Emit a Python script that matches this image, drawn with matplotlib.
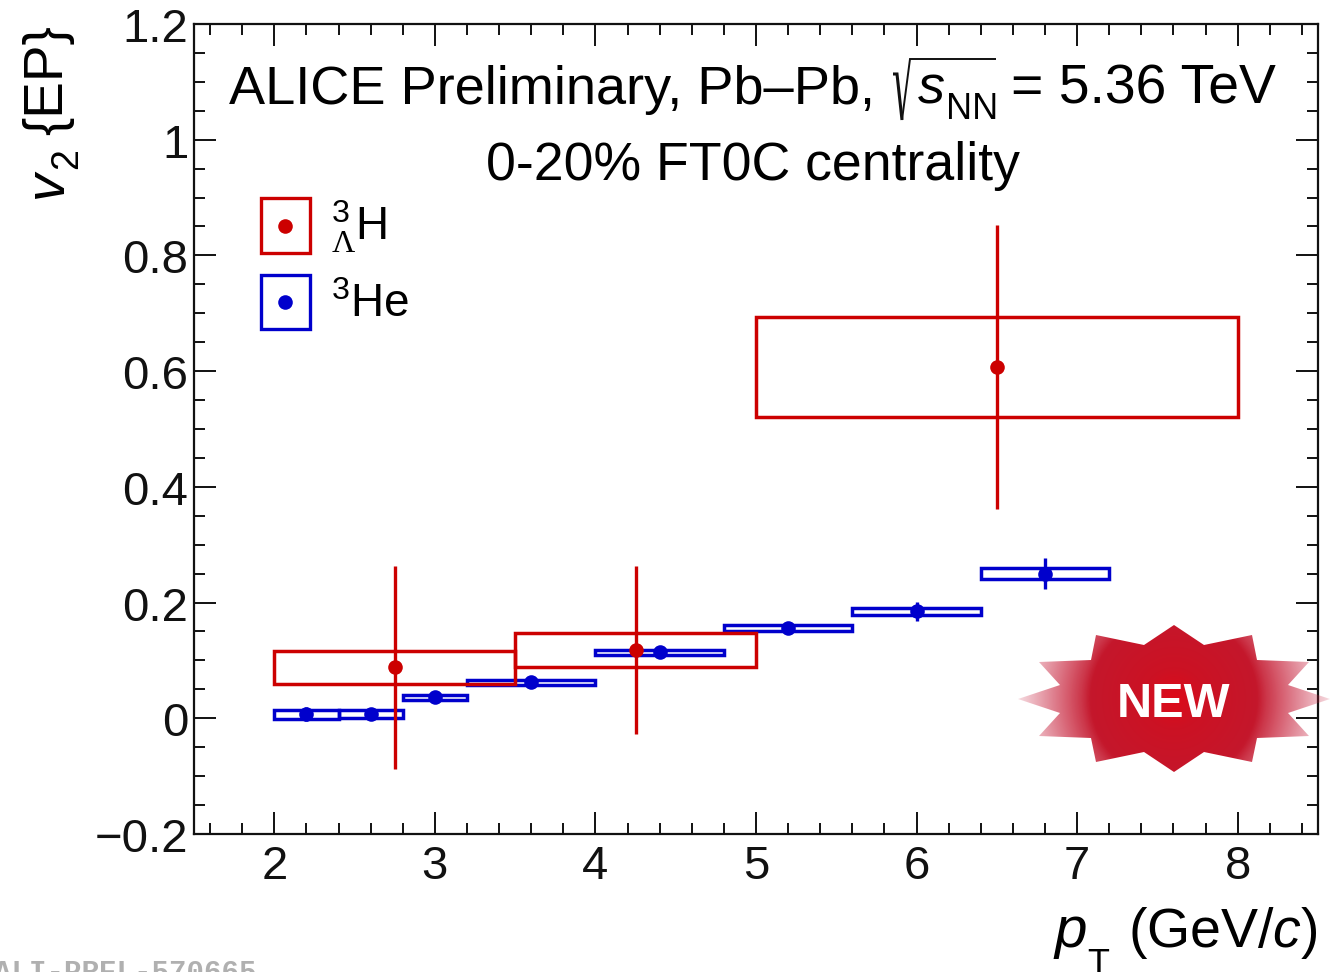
#!/usr/bin/env python3
# v2 vs pT for hypertriton and 3He, ALICE preliminary
import numpy as np
import matplotlib
matplotlib.use('Agg')
import matplotlib.pyplot as plt
from matplotlib.patches import Rectangle, Polygon
from matplotlib.lines import Line2D
from matplotlib.legend_handler import HandlerTuple, HandlerLine2D
from matplotlib.ticker import MultipleLocator, FuncFormatter
from matplotlib.transforms import ScaledTranslation

plt.rcParams['font.family'] = ['Liberation Sans', 'DejaVu Sans']
plt.rcParams['mathtext.fontset'] = 'custom'
plt.rcParams['mathtext.rm'] = 'Liberation Sans'
plt.rcParams['mathtext.it'] = 'Liberation Sans:italic'
plt.rcParams['mathtext.bf'] = 'Liberation Sans:bold'
plt.rcParams['mathtext.tt'] = 'Liberation Serif'

# hypertriton
hyp_low = [2.0, 3.5, 5.0]
hyp_high = [3.5, 5.0, 8.0]
hyp_x = [2.75, 4.25, 6.5]
hyp_y = [0.088, 0.118, 0.607]
hyp_stat = [0.176, 0.145, 0.245]
hyp_sys_low = [0.059, 0.088, 0.520]
hyp_sys_high = [0.117, 0.147, 0.693]

# 3He
he_low = [2.0, 2.4, 2.8, 3.2, 4.0, 4.8, 5.6, 6.4]
he_high = [2.4, 2.8, 3.2, 4.0, 4.8, 5.6, 6.4, 7.2]
he_x = [2.2, 2.6, 3.0, 3.6, 4.4, 5.2, 6.0, 6.8]
he_y = [0.007, 0.007, 0.036, 0.062, 0.114, 0.156, 0.185, 0.250]
he_stat = [0.012, 0.010, 0.008, 0.006, 0.007, 0.008, 0.016, 0.027]
he_sys = [0.008, 0.007, 0.005, 0.004, 0.004, 0.005, 0.006, 0.009]

red = '#cc0000'
blue = '#0000cc'
W, H = 1337, 972

fig = plt.figure(figsize=(W/100, H/100), dpi=100)
ax = fig.add_axes([194/W, (H-834)/H, 1124/W, 810/H])
ax.set_xlim(1.5, 8.5)
ax.set_ylim(-0.2, 1.2)


def sys_boxes(lows, highs, bottoms, tops, col):
    for l, h, b, t in zip(lows, highs, bottoms, tops):
        ax.add_patch(Rectangle((l, b), h-l, t-b, fill=False, ec=col, lw=2.5, zorder=3))


he_bot = [y-s for y, s in zip(he_y, he_sys)]
he_top = [y+s for y, s in zip(he_y, he_sys)]
sys_boxes(he_low, he_high, he_bot, he_top, blue)
ax.errorbar(he_x, he_y, yerr=he_stat, fmt='o', color=blue, ms=10.5, mew=0, elinewidth=2.4, zorder=4)

sys_boxes(hyp_low, hyp_high, hyp_sys_low, hyp_sys_high, red)
ax.errorbar(hyp_x, hyp_y, yerr=hyp_stat, fmt='o', color=red, ms=10.5, mew=0, elinewidth=2.4, zorder=5)

# ticks
ax.xaxis.set_major_locator(MultipleLocator(1))
ax.xaxis.set_minor_locator(MultipleLocator(0.2))
ax.yaxis.set_major_locator(MultipleLocator(0.2))
ax.yaxis.set_minor_locator(MultipleLocator(0.05))
ax.yaxis.set_major_formatter(FuncFormatter(lambda v, p: ('%.1f' % v).replace('-', '\u2212').replace('1.0', '1').replace('0.0', '0')))
ax.tick_params(which='both', direction='in', top=True, right=True, width=1.4, colors='#111111')
ax.tick_params(which='major', length=16, labelsize=34, pad=4)
ax.tick_params(which='minor', length=8)
ax.tick_params(axis='x', which='major', pad=8)
for sp in ax.spines.values():
    sp.set_linewidth(1.6)
    sp.set_color('#111111')
shift = ScaledTranslation(0, -1/100, fig.dpi_scale_trans)
for lab in ax.get_yticklabels():
    lab.set_transform(lab.get_transform()+shift)


class HandlerDot(HandlerLine2D):
    # keep the dot in the middle of the legend box
    def create_artists(self, legend, orig_handle, xdescent, ydescent, width, height, fontsize, trans):
        arts = super().create_artists(legend, orig_handle, xdescent, ydescent, width, height, fontsize, trans)
        for a in arts:
            a.set_ydata(np.asarray(a.get_ydata())-ydescent/2)
        return arts


# legend
hyp_handle = (Rectangle((0, 0), 1, 1, fill=False, ec=red, lw=2.4),
              Line2D([], [], ls='none', marker='o', color=red, ms=10.5, mew=0))
he_handle = (Rectangle((0, 0), 1, 1, fill=False, ec=blue, lw=2.4),
             Line2D([], [], ls='none', marker='o', color=blue, ms=10.5, mew=0))
leg = ax.legend([hyp_handle, he_handle], ['$^{3}_{\\mathtt{\\Lambda}}$H', '$^{3}$He'],
                handler_map={tuple: HandlerTuple(ndivide=1, pad=0), Line2D: HandlerDot()},
                loc='upper left', bbox_to_anchor=(66.5/1124, 1-(198.5-24)/810), borderaxespad=0, borderpad=0,
                frameon=False, fontsize=33, handlelength=1.09, handleheight=1.44,
                handletextpad=0.45, labelspacing=0.42)

# overlay in pixel coordinates for the placed texts and the badge
ov = fig.add_axes([0, 0, 1, 1], zorder=10)
ov.patch.set_visible(False)
ov.axis('off')

# NEW badge
cx, cy = 1174, 699
star = np.array([[0, -74], [30, -54], [78, -64], [83, -39], [135, -37], [114, -14], [156, 0],
                 [114, 14], [135, 37], [83, 39], [78, 63], [30, 53], [0, 73], [-30, 53],
                 [-78, 63], [-83, 39], [-135, 37], [-114, 14], [-156, 0], [-114, -14],
                 [-135, -37], [-83, -39], [-78, -64], [-30, -54]], dtype=float)
gx, gy = np.meshgrid(np.arange(-160, 161), np.arange(-80, 81))
r = np.hypot(gx, gy)
img = np.zeros(r.shape+(4,))
img[..., 0] = np.interp(r, [0, 30, 82, 160], [0.87, 0.80, 0.77, 0.78])
img[..., 1] = np.interp(r, [0, 30, 82, 160], [0.04, 0.07, 0.09, 0.12])
img[..., 2] = np.interp(r, [0, 30, 82, 160], [0.10, 0.14, 0.17, 0.25])
img[..., 3] = np.interp(r, [0, 84, 92, 160], [1, 1, 0.88, 0.12])
im = ov.imshow(img, extent=(cx-160, cx+160, cy+80, cy-80), aspect='auto', interpolation='bilinear')
clip = Polygon(star+[cx, cy], closed=True, transform=ov.transData, fc='none', ec='none')
ov.add_patch(clip)
im.set_clip_path(clip)
ov.set_xlim(0, W)
ov.set_ylim(H, 0)
ov.text(cx, 717, 'NEW', color='white', fontsize=35, fontweight='bold', ha='center', va='baseline')

# header, pieces placed apart so the root sign fits like in the original
ov.text(229, 104, 'ALICE Preliminary, Pb\u2013Pb,', fontsize=39, ha='left', va='baseline')
ov.plot([893, 897, 902], [74, 74, 120], color='#111111', lw=2.2, solid_joinstyle='miter', solid_capstyle='butt')
ov.plot([902, 910, 996], [120, 59, 59], color='#111111', lw=1.4, solid_joinstyle='miter', solid_capstyle='butt')
ov.text(918, 103, 's', fontsize=39, style='italic', ha='left', va='baseline')
ov.text(946, 119, 'NN', fontsize=26, ha='left', va='baseline')
ov.text(1276, 104, '= 5.36 TeV', fontsize=39.8, ha='right', va='baseline')
ov.text(752.5, 180, '0-20% FT0C centrality', fontsize=38.6, ha='center', va='baseline')

# x title
ov.text(1318, 947, '(GeV/$c$)', fontsize=40, ha='right', va='baseline')
ov.text(1054, 947, 'p', fontsize=42, style='italic', ha='left', va='baseline')
ov.text(1087, 975, 'T', fontsize=26, ha='left', va='baseline', clip_on=False)

# y title
ov.text(62, 198, 'v', fontsize=40, style='italic', rotation=90, rotation_mode='anchor', ha='left', va='baseline')
ov.text(77, 169, '2', fontsize=27, rotation=90, rotation_mode='anchor', ha='left', va='baseline')
ov.text(62, 135, '{EP}', fontsize=39.5, rotation=90, rotation_mode='anchor', ha='left', va='baseline')

# preliminary figure id, cut by the page edge as in the original
ov.text(-6, 981, 'ALI-PREL-570665', family='Liberation Mono', fontweight='bold', fontsize=21,
        color='#b0b0b0', ha='left', va='baseline', clip_on=False)

fig.savefig('out.png', dpi=100)
